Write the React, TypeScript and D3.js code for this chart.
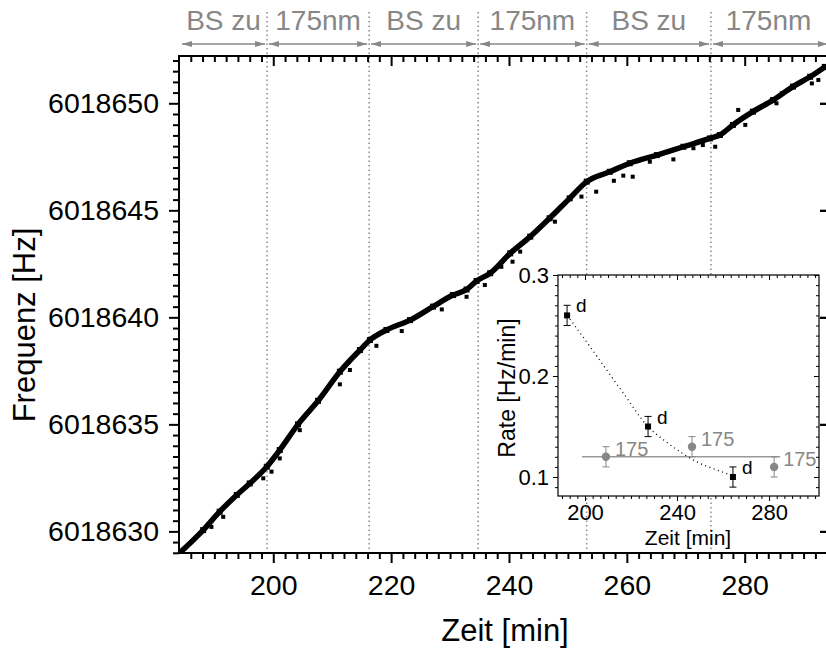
import React, { useEffect, useRef } from "react";
import * as d3 from "d3";

// main trace, read along the middle of the dense band of points
const traceTime = [184.1, 188.1, 190.9, 193.8, 196.0, 198.9, 201.1, 204.2, 207.6, 211.3, 214.7, 216.4, 219.2, 223.2, 227.1, 230.5, 232.8, 234.5, 236.8, 240.2, 243.6, 246.9, 250.3, 253.2, 257.1, 260.5, 265.1, 269.6, 274.1, 275.8, 278.0, 281.4, 284.8, 288.2, 291.1, 293.6];
const traceFreq = [6018628.99, 6018630.06, 6018630.92, 6018631.70, 6018632.24, 6018633.02, 6018633.80, 6018635.00, 6018636.10, 6018637.46, 6018638.47, 6018638.94, 6018639.41, 6018639.87, 6018640.50, 6018641.04, 6018641.30, 6018641.70, 6018642.06, 6018642.99, 6018643.77, 6018644.63, 6018645.56, 6018646.34, 6018646.80, 6018647.20, 6018647.58, 6018647.97, 6018648.36, 6018648.52, 6018648.99, 6018649.61, 6018650.15, 6018650.78, 6018651.24, 6018651.70];

// scattered single points off the band
const scatterTime = [189.5, 191.5, 198.3, 199.7, 201.1, 204.5, 211.3, 213.0, 217.5, 221.8, 228.6, 232.8, 235.9, 238.7, 240.6, 241.9, 247.8, 252.3, 254.8, 257.8, 259.4, 261.0, 263.9, 267.9, 271.3, 272.9, 275.0, 280.1, 278.9, 285.4, 286.3, 291.4, 292.5];
const scatterFreq = [6018630.21, 6018630.68, 6018632.48, 6018632.79, 6018633.41, 6018634.73, 6018636.87, 6018637.54, 6018638.67, 6018639.36, 6018640.37, 6018640.96, 6018641.51, 6018642.36, 6018642.6, 6018643.07, 6018644.47, 6018645.64, 6018645.87, 6018646.38, 6018646.62, 6018646.57, 6018647.27, 6018647.38, 6018647.9, 6018648.05, 6018647.97, 6018648.99, 6018649.69, 6018650.0, 6018650.47, 6018650.93, 6018651.09];

// switching times (dotted lines) and phase labels
const switchTimes = [198.95, 216.27, 234.77, 253.18, 274.28];
const phaseLabels = ["BS zu", "175nm", "BS zu", "175nm", "BS zu", "175nm"];

const xTicks = [200, 220, 240, 260, 280];
const yTicks = [6018630, 6018635, 6018640, 6018645, 6018650];

// inset: rates
const dTime = [192.2, 227.4, 264.3];
const dRate = [0.26, 0.15, 0.10];
const gTime = [209.1, 246.5, 282.2];
const gRate = [0.12, 0.13, 0.11];
const rateErr = 0.01;
const gMeanRate = 0.12;
const gMeanSpan = [198.7, 284.8];
const fitTime = [192.3, 202.2, 209.4, 216.7, 227.3, 234.0, 241.3, 248.6, 257.3, 264.5];
const fitRate = [0.26, 0.229, 0.206, 0.183, 0.15, 0.137, 0.125, 0.115, 0.107, 0.101];
const insetXTicks = [200, 240, 280];
const insetYTicks = [0.1, 0.2, 0.3];

const FONT = "'Liberation Sans', Arial, Helvetica, sans-serif";
const GRAY = "#878787";

export default function App() {
  const ref = useRef<SVGSVGElement>(null);

  useEffect(() => {
    const svg = d3.select(ref.current);
    svg.selectAll("*").remove();

    const left = 179, right = 827, top = 56, bottom = 553;
    const x = d3.scaleLinear().domain([184.0, 293.97]).range([left, right]);
    const y = d3.scaleLinear().domain([6018628.99, 6018652.21]).range([bottom, top]);

    const defs = svg.append("defs");
    defs.append("clipPath").attr("id", "plotclip")
      .append("rect").attr("x", left).attr("y", top).attr("width", right - left).attr("height", bottom - top);
    defs.append("marker")
      .attr("id", "ah")
      .attr("viewBox", "0 0 10 6")
      .attr("refX", 10).attr("refY", 3)
      .attr("markerWidth", 10).attr("markerHeight", 6)
      .attr("markerUnits", "userSpaceOnUse")
      .attr("orient", "auto-start-reverse")
      .append("path").attr("d", "M0,0L10,3L0,6Z").attr("fill", GRAY);

    // dotted switching lines
    svg.append("g").selectAll("line").data(switchTimes).enter().append("line")
      .attr("x1", d => x(d)).attr("x2", d => x(d))
      .attr("y1", 12).attr("y2", bottom)
      .attr("stroke", GRAY).attr("stroke-width", 1.5)
      .attr("stroke-dasharray", "1.5,3");

    // phase arrows + labels
    const edges = [left + 1, ...switchTimes.map(d => x(d)), 830];
    const ph = svg.append("g");
    phaseLabels.forEach((lab, i) => {
      const a = edges[i] + 2, b = edges[i + 1] - 2;
      ph.append("line")
        .attr("x1", a).attr("x2", b).attr("y1", 44).attr("y2", 44)
        .attr("stroke", GRAY).attr("stroke-width", 1.6)
        .attr("marker-start", "url(#ah)").attr("marker-end", "url(#ah)");
      ph.append("text")
        .attr("x", (edges[i] + Math.min(edges[i + 1], 826)) / 2)
        .attr("y", 30)
        .attr("text-anchor", "middle")
        .attr("font-family", FONT).attr("font-size", 28)
        .attr("fill", GRAY)
        .text(lab);
    });

    // data
    const band = svg.append("g").attr("clip-path", "url(#plotclip)");
    const line = d3.line<number>().x((d, i) => x(traceTime[i])).y(d => y(d)).curve(d3.curveMonotoneX);
    band.append("path").datum(traceFreq).attr("d", line)
      .attr("fill", "none").attr("stroke", "#000").attr("stroke-width", 5.5);
    band.selectAll("rect.pt").data(scatterFreq).enter().append("rect")
      .attr("class", "pt")
      .attr("x", (d, i) => x(scatterTime[i]) - 2).attr("y", d => y(d) - 2)
      .attr("width", 4).attr("height", 4).attr("fill", "#000");
    band.selectAll("rect.bp").data(traceFreq).enter().append("rect")
      .attr("class", "bp")
      .attr("x", (d, i) => x(traceTime[i]) - 3).attr("y", d => y(d) - 3)
      .attr("width", 6).attr("height", 6).attr("fill", "#000");

    // axes
    const minorX = d3.range(186, 294, 2).filter(v => v % 20 !== 0);
    const minorY = d3.range(6018629, 6018652.3, 0.5).filter(v => Math.abs(v % 5) > 0.01);

    const axB = svg.append("g").attr("transform", `translate(0,${bottom})`);
    axB.call(d3.axisBottom(x).tickValues(xTicks).tickSize(10).tickPadding(12).tickFormat(d3.format("d")));
    axB.append("g").call(d3.axisBottom(x).tickValues(minorX).tickSize(6).tickFormat(() => ""));

    const axT = svg.append("g").attr("transform", `translate(0,${top})`);
    axT.call(d3.axisTop(x).tickValues(xTicks).tickSize(-10).tickFormat(() => ""));
    axT.append("g").call(d3.axisTop(x).tickValues(minorX).tickSize(-6).tickFormat(() => ""));

    const axL = svg.append("g").attr("transform", `translate(${left},0)`);
    axL.call(d3.axisLeft(y).tickValues(yTicks).tickSize(10).tickPadding(10).tickFormat(d3.format("d")));
    axL.append("g").call(d3.axisLeft(y).tickValues(minorY).tickSize(6).tickFormat(() => ""));

    const axR = svg.append("g").attr("transform", `translate(${right},0)`);
    axR.call(d3.axisRight(y).tickValues(yTicks).tickSize(-7).tickFormat(() => ""));

    [axB, axT, axL, axR].forEach(g => {
      g.selectAll(".domain").remove();
      g.selectAll("line").attr("stroke", "#000").attr("stroke-width", 2);
      g.selectAll("text").attr("font-family", FONT).attr("font-size", 28.5).attr("fill", "#000");
    });

    svg.append("rect")
      .attr("x", left).attr("y", top).attr("width", right - left).attr("height", bottom - top)
      .attr("fill", "none").attr("stroke", "#000").attr("stroke-width", 2);

    svg.append("text")
      .attr("x", 505).attr("y", 641)
      .attr("text-anchor", "middle")
      .attr("font-family", FONT).attr("font-size", 31)
      .text("Zeit [min]");
    svg.append("text")
      .attr("transform", "translate(35,325) rotate(-90)")
      .attr("text-anchor", "middle")
      .attr("font-family", FONT).attr("font-size", 31)
      .text("Frequenz [Hz]");

    // inset
    const il = 558, ir = 819, it = 275, ib = 496;
    const ix = d3.scaleLinear().domain([188.26, 301.7]).range([il, ir]);
    const iy = d3.scaleLinear().domain([0.0812, 0.3]).range([ib, it]);
    const inset = svg.append("g");
    inset.append("rect").attr("x", il).attr("y", it).attr("width", ir - il).attr("height", ib - it)
      .attr("fill", "#fff");

    const iMinorX = d3.range(190, 301, 10 / 3).filter(v => Math.abs(((v - 200) / 40) - Math.round((v - 200) / 40)) > 0.01);
    const iMinorY = d3.range(0.09, 0.3, 0.01).filter(v => Math.abs(v * 10 - Math.round(v * 10)) > 0.01);

    const iB = inset.append("g").attr("transform", `translate(0,${ib})`);
    iB.call(d3.axisBottom(ix).tickValues(insetXTicks).tickSize(5).tickPadding(3).tickFormat(d3.format("d")));
    iB.append("g").call(d3.axisBottom(ix).tickValues(iMinorX).tickSize(3).tickFormat(() => ""));
    const iT = inset.append("g").attr("transform", `translate(0,${it})`);
    iT.call(d3.axisTop(ix).tickValues(insetXTicks).tickSize(-5).tickFormat(() => ""));
    iT.append("g").call(d3.axisTop(ix).tickValues(iMinorX).tickSize(-3).tickFormat(() => ""));
    const iL = inset.append("g").attr("transform", `translate(${il},0)`);
    iL.call(d3.axisLeft(iy).tickValues(insetYTicks).tickSize(5).tickPadding(4).tickFormat(d3.format(".1f")));
    iL.append("g").call(d3.axisLeft(iy).tickValues(iMinorY).tickSize(3).tickFormat(() => ""));
    const iR = inset.append("g").attr("transform", `translate(${ir},0)`);
    iR.call(d3.axisRight(iy).tickValues(insetYTicks).tickSize(-5).tickFormat(() => ""));
    iR.append("g").call(d3.axisRight(iy).tickValues(iMinorY).tickSize(-3).tickFormat(() => ""));

    [iB, iT, iL, iR].forEach(g => {
      g.selectAll(".domain").remove();
      g.selectAll("line").attr("stroke", "#000").attr("stroke-width", 1);
      g.selectAll("text").attr("font-family", FONT).attr("font-size", 22).attr("fill", "#000");
    });
    inset.append("rect").attr("x", il).attr("y", it).attr("width", ir - il).attr("height", ib - it)
      .attr("fill", "none").attr("stroke", "#000").attr("stroke-width", 1.2);

    // re-draw main right ticks over inset
    svg.append("g").attr("transform", `translate(${right},0)`)
      .call(d3.axisRight(y).tickValues(yTicks).tickSize(-7).tickFormat(() => ""))
      .call(g => g.select(".domain").remove())
      .selectAll("line").attr("stroke", "#000").attr("stroke-width", 2);

    inset.append("text")
      .attr("x", 688).attr("y", 545)
      .attr("text-anchor", "middle")
      .attr("font-family", FONT).attr("font-size", 21)
      .text("Zeit [min]");
    inset.append("text")
      .attr("transform", "translate(515,388) rotate(-90)")
      .attr("text-anchor", "middle")
      .attr("font-family", FONT).attr("font-size", 23)
      .text("Rate [Hz/min]");

    // gray mean line
    inset.append("line")
      .attr("x1", ix(gMeanSpan[0])).attr("x2", ix(gMeanSpan[1]))
      .attr("y1", iy(gMeanRate)).attr("y2", iy(gMeanRate))
      .attr("stroke", "#999").attr("stroke-width", 1.5);

    // dotted fit
    const fitLine = d3.line<number>().x((d, i) => ix(fitTime[i])).y(d => iy(d)).curve(d3.curveMonotoneX);
    inset.append("path").datum(fitRate).attr("d", fitLine)
      .attr("fill", "none").attr("stroke", "#000").attr("stroke-width", 1.3)
      .attr("stroke-dasharray", "1,3.5");

    const errBars = (ts: number[], rs: number[], color: string) => {
      rs.forEach((r, i) => {
        const cx = ix(ts[i]);
        const y1 = iy(r - rateErr), y2 = iy(r + rateErr);
        inset.append("line").attr("x1", cx).attr("x2", cx).attr("y1", y1).attr("y2", y2)
          .attr("stroke", color).attr("stroke-width", 1);
        [y1, y2].forEach(yy => inset.append("line")
          .attr("x1", cx - 3.5).attr("x2", cx + 3.5).attr("y1", yy).attr("y2", yy)
          .attr("stroke", color).attr("stroke-width", 1));
      });
    };
    errBars(gTime, gRate, GRAY);
    errBars(dTime, dRate, "#000");

    inset.selectAll("circle.g").data(gRate).enter().append("circle")
      .attr("cx", (d, i) => ix(gTime[i])).attr("cy", d => iy(d)).attr("r", 4.2)
      .attr("fill", GRAY);
    inset.selectAll("rect.d").data(dRate).enter().append("rect")
      .attr("x", (d, i) => ix(dTime[i]) - 3).attr("y", d => iy(d) - 3)
      .attr("width", 6).attr("height", 6).attr("fill", "#000");

    inset.selectAll("text.gl").data(gRate).enter().append("text")
      .attr("x", (d, i) => ix(gTime[i]) + 9).attr("y", d => iy(d) - 1)
      .attr("font-family", FONT).attr("font-size", 20).attr("fill", GRAY)
      .text("175");
    inset.selectAll("text.dl").data(dRate).enter().append("text")
      .attr("x", (d, i) => ix(dTime[i]) + 9).attr("y", d => iy(d) - 3)
      .attr("font-family", FONT).attr("font-size", 19).attr("fill", "#000")
      .text("d");
  }, []);

  return (
    <svg ref={ref} width={826} height={655}
      style={{ position: "absolute", left: 0, top: 0, background: "#fff" }} />
  );
}
